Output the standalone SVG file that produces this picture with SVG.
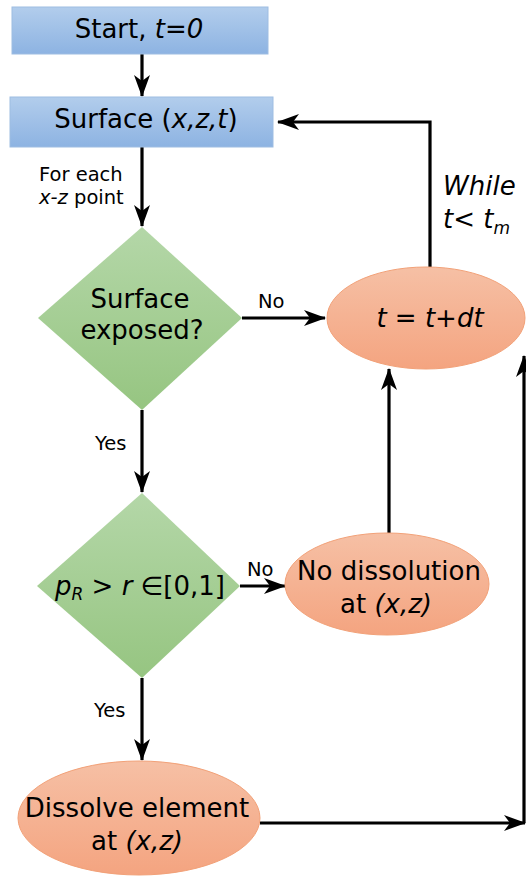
<svg xmlns="http://www.w3.org/2000/svg" width="526" height="876" viewBox="0 0 526 876">
<defs>
<linearGradient id="gBlue" x1="0" y1="0" x2="0" y2="1"><stop offset="0" stop-color="#b2cdec"/><stop offset="1" stop-color="#8db3e2"/></linearGradient>
<linearGradient id="gGreen" x1="0" y1="0" x2="0" y2="1"><stop offset="0" stop-color="#b4d7a8"/><stop offset="1" stop-color="#96c581"/></linearGradient>
<linearGradient id="gOrange" x1="0" y1="0" x2="0" y2="1"><stop offset="0" stop-color="#f6c0a5"/><stop offset="1" stop-color="#f4a480"/></linearGradient>
<marker id="arr" viewBox="0 0 22 16" refX="21" refY="8" markerWidth="22" markerHeight="16" markerUnits="userSpaceOnUse" orient="auto">
<path d="M0,0 L22,8 L0,16 L6,8 z" fill="#000"/>
</marker>
<style>
text{font-family:"DejaVu Sans","Liberation Sans",sans-serif;fill:#000}
.big{font-size:26px}
.sm{font-size:19.5px}
.box{fill:url(#gBlue);stroke:#9ebde2;stroke-width:1}
.dia{fill:url(#gGreen);stroke:none}
.ell{fill:url(#gOrange);stroke:#f2a178;stroke-width:1}
.con{fill:none;stroke:#000;stroke-width:3.2}
.a{marker-end:url(#arr)}
</style>
</defs>

<g id="connectors">
<line class="con a" x1="142" y1="54" x2="142" y2="96"/>
<line class="con a" x1="142" y1="147" x2="142" y2="226"/>
<line class="con a" x1="142" y1="410" x2="142" y2="492"/>
<line class="con a" x1="142" y1="678" x2="142" y2="760"/>
<line class="con a" x1="242" y1="318" x2="325" y2="318"/>
<line class="con a" x1="240" y1="586" x2="285" y2="586"/>
<line class="con a" x1="389" y1="533" x2="389" y2="369"/>
<polyline class="con a" points="430,267 430,122 278,122"/>
<line class="con a" x1="260" y1="823" x2="525" y2="823"/>
<line class="con a" x1="524" y1="823" x2="524" y2="356"/>
<text class="sm" x="39" y="181">For each</text>
<text class="sm" x="39" y="204"><tspan font-style="italic">x-z</tspan> point</text>
<text class="sm" x="258" y="308">No</text>
<text class="sm" x="95" y="450">Yes</text>
<text class="sm" x="247" y="576">No</text>
<text class="sm" x="94" y="717">Yes</text>
<text class="big" x="443" y="195" font-style="italic">While</text>
<text class="big" x="443" y="228" font-style="italic">t&lt; t<tspan font-size="17" dy="6">m</tspan></text>
</g>

<g id="start">
<rect class="box" x="12" y="7" width="256" height="47"/>
<text class="big" x="139" y="38" text-anchor="middle">Start, <tspan font-style="italic">t=0</tspan></text>
</g>

<g id="surface">
<rect class="box" x="10" y="97" width="263" height="50"/>
<text class="big" x="146" y="128" text-anchor="middle">Surface (<tspan font-style="italic">x,z,t</tspan>)</text>
</g>

<g id="exposed">
<polygon class="dia" points="142,227 242,318 142,410 38,318"/>
<text class="big" x="140" y="308" text-anchor="middle">Surface</text>
<text class="big" x="142" y="339" text-anchor="middle">exposed?</text>
</g>

<g id="timestep">
<ellipse class="ell" cx="426" cy="318" rx="99" ry="51"/>
<text class="big" x="430" y="327" text-anchor="middle" font-style="italic">t = t+dt</text>
</g>

<g id="probability">
<polygon class="dia" points="142,493 240,586 142,678 37,586"/>
<text class="big" x="140" y="595" text-anchor="middle"><tspan font-style="italic">p</tspan><tspan font-size="17" font-style="italic" dy="5">R</tspan><tspan dy="-5"> &gt; </tspan><tspan font-style="italic">r</tspan> ∈[0,1]</text>
</g>

<g id="nodissolution">
<ellipse class="ell" cx="387" cy="584" rx="102" ry="51"/>
<text class="big" x="389" y="580" text-anchor="middle">No dissolution</text>
<text class="big" x="386" y="613" text-anchor="middle">at <tspan font-style="italic">(x,z)</tspan></text>
</g>

<g id="dissolve">
<ellipse class="ell" cx="139" cy="818" rx="121" ry="57"/>
<text class="big" x="137" y="817" text-anchor="middle">Dissolve element</text>
<text class="big" x="137" y="850" text-anchor="middle">at <tspan font-style="italic">(x,z)</tspan></text>
</g>
</svg>
